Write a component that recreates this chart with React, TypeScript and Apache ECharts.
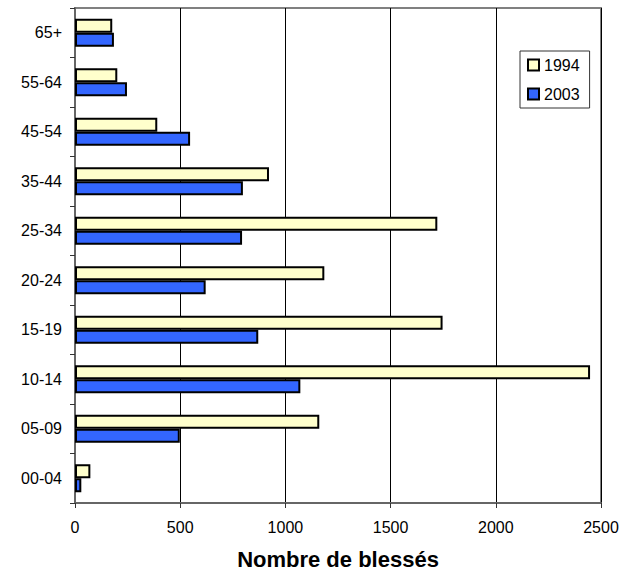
import React, { useEffect, useRef } from "react";
import * as echarts from "echarts";

const categories = ["00-04", "05-09", "10-14", "15-19", "20-24", "25-34", "35-44", "45-54", "55-64", "65+"];
const values1994 = [73, 1161, 2448, 1747, 1185, 1722, 922, 391, 201, 177];
const values2003 = [30, 498, 1071, 871, 621, 794, 798, 547, 247, 185];
const xTicks = { min: 0, max: 2500, interval: 500 };

export default function App() {
  const ref = useRef<HTMLDivElement>(null);
  useEffect(() => {
    if (!ref.current) return;
    const chart = echarts.init(ref.current, null, { renderer: "svg" });
    const font = "Liberation Sans, Arial, sans-serif";
    chart.setOption({
      animation: false,
      textStyle: { fontFamily: font },
      grid: {
        left: 75,
        right: 27,
        top: 8,
        bottom: 68,
        show: true,
        borderColor: "#808080",
        borderWidth: 2,
        containLabel: false,
      },
      legend: {
        data: ["1994", "2003"],
        orient: "vertical",
        left: 520,
        top: 51,
        padding: [6, 10, 6, 7],
        itemWidth: 11,
        itemHeight: 11,
        itemGap: 13,
        icon: "rect",
        borderColor: "#333",
        borderWidth: 1,
        textStyle: { fontSize: 16, color: "#000", fontFamily: font },
      },
      xAxis: {
        type: "value",
        min: xTicks.min,
        max: xTicks.max,
        interval: xTicks.interval,
        name: "Nombre de blessés",
        nameLocation: "middle",
        nameGap: 45,
        nameTextStyle: { fontSize: 22, fontWeight: "bold", color: "#000", fontFamily: font },
        axisLine: { show: true, lineStyle: { color: "#666", width: 2 } },
        axisTick: { show: true, length: 5, lineStyle: { color: "#333" } },
        axisLabel: { fontSize: 16, color: "#000", margin: 16, fontFamily: font, formatter: (v: number) => String(v) },
        splitLine: { show: true, lineStyle: { color: "#000", width: 1 } },
      },
      yAxis: {
        type: "category",
        data: categories,
        axisLine: { show: true, lineStyle: { color: "#666", width: 2 } },
        axisTick: { show: true, length: 5, alignWithLabel: false, lineStyle: { color: "#333" } },
        axisLabel: { fontSize: 16, color: "#000", margin: 13, fontFamily: font },
        splitLine: { show: false },
      },
      series: [
        {
          name: "1994",
          type: "bar",
          data: values1994,
          barWidth: 14,
          barGap: "0%",
          itemStyle: { color: "#FFFFCC", borderColor: "#000", borderWidth: 2 },
        },
        {
          name: "2003",
          type: "bar",
          data: values2003,
          barWidth: 14,
          barGap: "0%",
          itemStyle: { color: "#3366FF", borderColor: "#000", borderWidth: 2 },
        },
      ],
    });
    return () => chart.dispose();
  }, []);
  return <div ref={ref} style={{ position: "absolute", left: 0, top: 0, width: 628, height: 575 }} />;
}
